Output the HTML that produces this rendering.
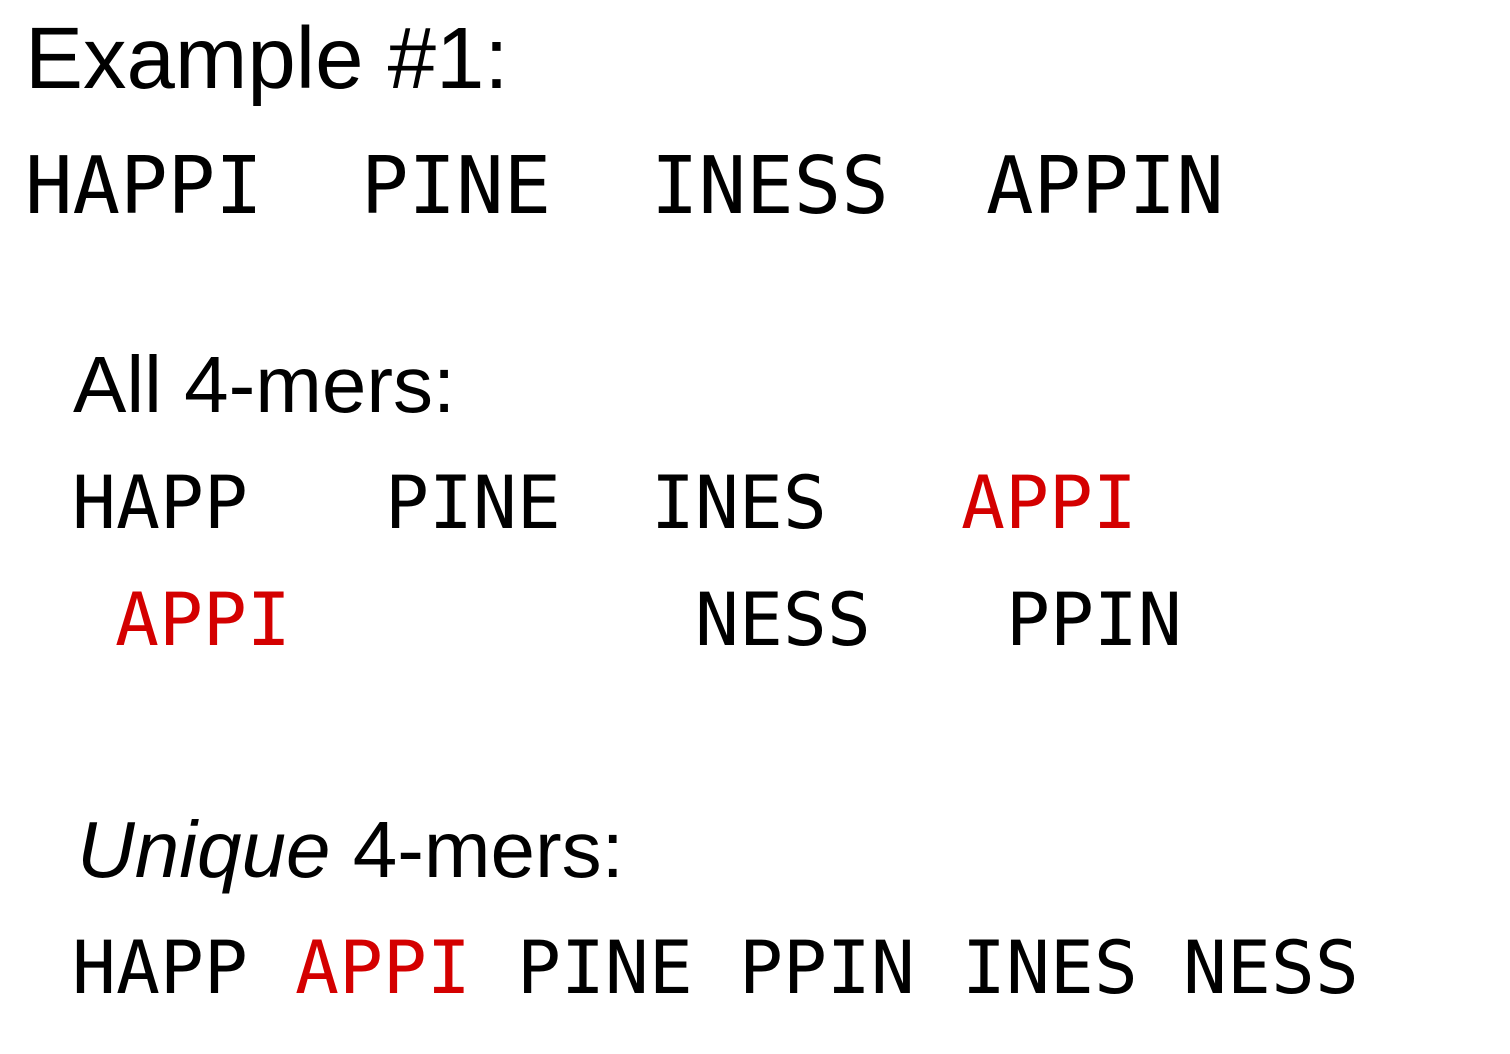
<!DOCTYPE html>
<html><head><meta charset="utf-8"><style>
html,body{margin:0;padding:0;background:#fff;width:1510px;height:1054px;overflow:hidden}
svg{display:block}
.s{font-family:"Liberation Sans",sans-serif;fill:#000}
.m{font-family:"DejaVu Sans Mono","Liberation Mono",monospace;fill:#000}
.r{fill:#d40000}
</style></head><body>
<svg width="1510" height="1054" xmlns="http://www.w3.org/2000/svg">
<text class="s" x="25" y="88" font-size="87">Example #1:</text>
<g class="m" font-size="79">
<text class="m" x="25" y="213">HAPPI</text>
<text class="m" x="361" y="213">PINE</text>
<text class="m" x="651" y="213">INESS</text>
<text class="m" x="986" y="213">APPIN</text>
</g>
<text class="s" x="73" y="412" font-size="80">All 4-mers:</text>
<g font-size="73">
<text class="m" x="72" y="528" font-size="73">HAPP</text>
<text class="m" x="385" y="528" font-size="73">PINE</text>
<text class="m" x="651" y="528" font-size="73">INES</text>
<text class="m r" x="961" y="528" font-size="73">APPI</text>
<text class="m r" x="115" y="645" font-size="73">APPI</text>
<text class="m" x="695" y="645" font-size="73">NESS</text>
<text class="m" x="1006" y="645" font-size="73">PPIN</text>
</g>
<text class="s" x="77" y="877" font-size="80"><tspan font-style="italic">Unique</tspan> 4-mers:</text>
<text class="m" x="72" y="993" font-size="73">HAPP</text>
<text class="m r" x="295" y="993" font-size="73">APPI</text>
<text class="m" x="517" y="993" font-size="73">PINE</text>
<text class="m" x="739" y="993" font-size="73">PPIN</text>
<text class="m" x="962" y="993" font-size="73">INES</text>
<text class="m" x="1183" y="993" font-size="73">NESS</text>
</svg>
</body></html>
